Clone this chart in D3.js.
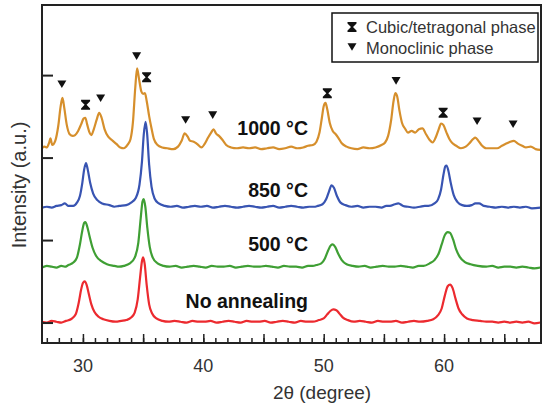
<!DOCTYPE html>
<html>
<head>
<meta charset="utf-8">
<script src="https://cdn.jsdelivr.net/npm/d3@7"></script>
<style>
  body { margin: 0; background: #fff; }
  svg { display: block; font-family: "Liberation Sans", Arial, Helvetica, sans-serif; }
</style>
</head>
<body>
<svg id="xrd" width="543" height="408"></svg>
<script>
//////////////////////////////////////
///////////// DATA ///////////////////
//////////////////////////////////////

// [2theta, intensity (a.u.)], each relative to its own baseline
var noAnnealing = [[26.6,0.01],[27.0,0.00],[27.4,0.02],[27.8,0.01],[28.2,0.00],[28.6,0.02],[29.0,0.04],[29.4,0.10],[29.65,0.24],[29.85,0.40],[30.0,0.48],[30.15,0.50],[30.3,0.46],[30.5,0.34],[30.7,0.22],[30.95,0.13],[31.3,0.07],[31.7,0.04],[32.2,0.02],[32.7,0.01],[33.2,0.02],[33.6,0.03],[34.0,0.06],[34.3,0.12],[34.55,0.28],[34.75,0.55],[34.9,0.74],[35.0,0.79],[35.12,0.72],[35.3,0.45],[35.5,0.22],[35.75,0.11],[36.1,0.05],[36.6,0.02],[37.1,0.01],[37.6,0.02],[38.1,0.01],[38.6,0.00],[39.1,0.02],[39.6,0.01],[40.1,0.01],[40.6,0.02],[41.1,0.00],[41.6,0.01],[42.1,0.02],[42.6,0.01],[43.1,0.00],[43.6,0.02],[44.1,0.01],[44.6,0.01],[45.1,0.02],[45.6,0.00],[46.1,0.01],[46.6,0.02],[47.1,0.01],[47.6,0.00],[48.1,0.02],[48.6,0.01],[49.1,0.01],[49.6,0.03],[50.0,0.05],[50.3,0.10],[50.55,0.14],[50.8,0.16],[51.05,0.15],[51.3,0.11],[51.6,0.06],[52.0,0.03],[52.5,0.01],[53.0,0.02],[53.5,0.01],[54.0,0.00],[54.5,0.02],[55.0,0.01],[55.5,0.01],[56.0,0.02],[56.5,0.00],[57.0,0.01],[57.5,0.02],[58.0,0.01],[58.6,0.02],[59.1,0.04],[59.5,0.09],[59.8,0.17],[60.05,0.32],[60.3,0.44],[60.5,0.46],[60.7,0.42],[60.95,0.29],[61.2,0.17],[61.5,0.10],[61.9,0.05],[62.4,0.03],[63.0,0.02],[63.5,0.01],[64.0,0.01],[64.5,0.00],[65.0,0.01],[65.5,0.00],[66.0,0.01],[66.5,0.00],[67.0,0.01],[67.5,-0.01],[68.0,0.00]];

var anneal500 = [[26.6,0.00],[27.0,0.02],[27.4,0.01],[27.8,0.00],[28.2,0.02],[28.5,0.01],[28.8,0.03],[29.2,0.06],[29.5,0.12],[29.75,0.28],[29.95,0.45],[30.1,0.54],[30.2,0.55],[30.35,0.50],[30.55,0.38],[30.8,0.24],[31.1,0.14],[31.5,0.08],[32.0,0.04],[32.6,0.02],[33.0,0.01],[33.4,0.02],[33.9,0.05],[34.3,0.12],[34.6,0.30],[34.8,0.60],[34.95,0.80],[35.05,0.83],[35.18,0.74],[35.35,0.48],[35.55,0.25],[35.8,0.12],[36.2,0.05],[36.7,0.02],[37.2,0.01],[37.7,0.02],[38.2,0.00],[38.7,0.01],[39.2,0.02],[39.7,0.01],[40.2,0.00],[40.7,0.02],[41.2,0.01],[41.7,0.01],[42.2,0.02],[42.7,0.00],[43.2,0.01],[43.7,0.02],[44.2,0.01],[44.7,0.01],[45.2,0.02],[45.7,0.01],[46.2,0.00],[46.7,0.02],[47.2,0.01],[47.7,0.01],[48.2,0.00],[48.7,0.02],[49.1,0.02],[49.4,0.03],[49.8,0.05],[50.1,0.11],[50.35,0.20],[50.6,0.27],[50.75,0.28],[50.95,0.25],[51.2,0.17],[51.5,0.09],[51.9,0.04],[52.4,0.02],[52.9,0.01],[53.4,0.02],[53.9,0.00],[54.4,0.01],[54.9,0.02],[55.4,0.01],[55.9,0.01],[56.4,0.02],[56.9,0.01],[57.4,0.00],[57.9,0.02],[58.3,0.02],[58.8,0.05],[59.2,0.09],[59.55,0.17],[59.8,0.28],[60.05,0.39],[60.3,0.43],[60.5,0.42],[60.75,0.34],[61.0,0.22],[61.3,0.13],[61.7,0.07],[62.2,0.04],[62.8,0.02],[63.5,0.01],[64.0,0.02],[64.5,0.00],[65.0,0.01],[65.5,0.01],[66.0,0.00],[66.5,0.01],[67.0,0.00],[67.5,-0.01],[68.0,0.00]];

var anneal850 = [[26.6,0.00],[27.0,0.01],[27.4,0.00],[27.8,0.02],[28.2,0.03],[28.5,0.05],[28.8,0.02],[29.2,0.02],[29.5,0.06],[29.75,0.14],[29.95,0.30],[30.1,0.46],[30.25,0.54],[30.4,0.46],[30.6,0.30],[30.85,0.17],[31.2,0.09],[31.6,0.05],[32.2,0.03],[32.6,0.01],[33.0,0.02],[33.6,0.03],[34.0,0.06],[34.4,0.12],[34.7,0.28],[34.9,0.55],[35.05,0.88],[35.2,1.04],[35.33,0.90],[35.5,0.52],[35.7,0.25],[35.95,0.11],[36.3,0.05],[36.8,0.02],[37.3,0.01],[37.8,0.02],[38.3,0.00],[38.8,0.01],[39.3,0.02],[39.8,0.01],[40.3,0.02],[40.8,0.00],[41.3,0.01],[41.8,0.02],[42.3,0.01],[42.8,0.00],[43.3,0.01],[43.8,0.02],[44.3,0.01],[44.8,0.00],[45.3,0.01],[45.8,0.02],[46.3,0.00],[46.8,0.01],[47.3,0.02],[47.8,0.01],[48.3,0.00],[48.8,0.01],[49.2,0.01],[49.5,0.02],[49.9,0.04],[50.2,0.10],[50.45,0.20],[50.65,0.27],[50.85,0.24],[51.1,0.14],[51.4,0.06],[51.8,0.03],[52.3,0.01],[52.8,0.02],[53.3,0.00],[53.8,0.01],[54.3,0.01],[54.8,0.00],[55.2,0.02],[55.5,0.02],[55.9,0.04],[56.2,0.05],[56.6,0.02],[57.0,0.01],[57.5,0.00],[58.0,0.01],[58.4,0.02],[58.7,0.02],[59.2,0.05],[59.5,0.10],[59.75,0.22],[59.95,0.40],[60.1,0.50],[60.2,0.51],[60.35,0.45],[60.55,0.30],[60.8,0.15],[61.1,0.07],[61.5,0.03],[61.9,0.02],[62.3,0.03],[62.6,0.05],[62.9,0.05],[63.3,0.02],[63.8,0.01],[64.3,0.00],[64.8,0.01],[65.3,0.00],[65.8,0.01],[66.3,0.00],[66.8,0.01],[67.3,-0.01],[68.0,0.00]];

var anneal1000 = [[26.6,0.01],[26.8,0.03],[27.0,0.02],[27.2,0.08],[27.3,0.13],[27.45,0.05],[27.7,0.10],[27.95,0.28],[28.15,0.52],[28.3,0.62],[28.45,0.50],[28.65,0.30],[28.9,0.18],[29.15,0.16],[29.35,0.17],[29.6,0.22],[29.85,0.30],[30.05,0.37],[30.2,0.38],[30.35,0.30],[30.55,0.20],[30.7,0.17],[30.9,0.24],[31.15,0.36],[31.35,0.44],[31.55,0.38],[31.8,0.24],[32.1,0.15],[32.4,0.11],[32.8,0.06],[33.1,0.02],[33.4,0.01],[33.7,0.05],[33.95,0.12],[34.15,0.32],[34.35,0.75],[34.5,0.98],[34.65,0.86],[34.85,0.70],[35.0,0.67],[35.15,0.68],[35.3,0.58],[35.5,0.40],[35.7,0.25],[35.9,0.12],[36.2,0.05],[36.6,0.02],[37.0,0.01],[37.5,0.00],[37.9,0.03],[38.2,0.10],[38.45,0.19],[38.7,0.15],[38.9,0.10],[39.2,0.09],[39.5,0.06],[39.85,0.02],[40.1,0.06],[40.4,0.14],[40.65,0.20],[40.85,0.24],[41.05,0.19],[41.3,0.16],[41.6,0.11],[41.9,0.05],[42.3,0.02],[42.8,0.01],[43.3,0.02],[43.8,0.01],[44.3,0.02],[44.8,0.00],[45.3,0.01],[45.8,0.02],[46.3,0.00],[46.8,0.01],[47.3,0.03],[47.8,0.01],[48.3,0.02],[48.7,0.04],[49.1,0.05],[49.4,0.09],[49.65,0.20],[49.85,0.38],[50.0,0.52],[50.15,0.56],[50.3,0.48],[50.5,0.32],[50.75,0.22],[51.0,0.18],[51.2,0.14],[51.5,0.07],[51.9,0.03],[52.3,0.01],[52.8,0.00],[53.3,0.02],[53.8,0.01],[54.3,0.02],[54.8,0.05],[55.1,0.08],[55.35,0.16],[55.6,0.35],[55.8,0.58],[55.95,0.68],[56.1,0.64],[56.3,0.46],[56.5,0.32],[56.75,0.25],[57.0,0.20],[57.3,0.22],[57.6,0.20],[57.9,0.24],[58.2,0.25],[58.5,0.18],[58.8,0.11],[59.05,0.08],[59.3,0.14],[59.55,0.24],[59.75,0.31],[59.95,0.29],[60.2,0.20],[60.45,0.12],[60.7,0.07],[61.0,0.04],[61.4,0.01],[61.8,0.03],[62.1,0.07],[62.4,0.12],[62.6,0.14],[62.85,0.10],[63.1,0.05],[63.5,0.01],[64.0,0.01],[64.4,0.01],[64.8,0.04],[65.2,0.07],[65.5,0.09],[65.8,0.10],[66.1,0.07],[66.5,0.04],[66.8,0.02],[67.2,0.03],[67.6,0.00],[68.0,-0.01]];

var seriesNames = ["No annealing", "500 °C", "850 °C", "1000 °C"];
var seriesData = [noAnnealing, anneal500, anneal850, anneal1000];
var seriesOffsets = [0.0, 0.667, 1.394, 2.103];   // vertical stacking (a.u.)
var seriesColors = ["#ec2a2f", "#3f9f34", "#3854b2", "#d68f2c"];

// phase markers: [2theta, height (a.u., stacked)]
var monoclinicPeaks = [[28.25,2.89],[31.47,2.72],[34.46,3.23],[38.53,2.455],[40.78,2.515],[56.01,2.93],[62.74,2.44],[65.73,2.405]];
var cubicPeaks = [[30.22,2.64],[35.29,2.975],[50.3,2.78],[59.92,2.545]];

var xTickLabels = [30, 40, 50, 60];
var yTicks = [0, 1, 2, 3];

//////////////////////////////////////
///////////// CHART //////////////////
//////////////////////////////////////

var svg = d3.select("#xrd"),
    plotLeft = 42, plotRight = 541, plotTop = 5, plotBottom = 343;

var x = d3.scaleLinear().domain([26.6, 68.05]).range([plotLeft, plotRight]);
var y = d3.scaleLinear().domain([-0.248, 3.85]).range([plotBottom, plotTop]);

svg.append("defs").append("clipPath").attr("id", "plotclip")
  .append("rect")
    .attr("x", plotLeft).attr("y", plotTop)
    .attr("width", plotRight - plotLeft).attr("height", plotBottom - plotTop);

// traces
var line = d3.line()
    .x(function(d) { return x(d[0]); })
    .y(function(d) { return y(d[1] + d.off); })
    .curve(d3.curveMonotoneX);

var traces = svg.append("g").attr("clip-path", "url(#plotclip)");
seriesData.forEach(function(s, i) {
  s.forEach(function(d) { d.off = seriesOffsets[i]; });
  traces.append("path")
      .datum(s)
      .attr("d", line)
      .attr("fill", "none")
      .attr("stroke", seriesColors[i])
      .attr("stroke-width", 2.2)
      .attr("stroke-linejoin", "round");
});

// series labels
var labelY = [308, 251, 197, 135];
svg.append("g").selectAll("text")
  .data(seriesNames)
  .enter().append("text")
    .attr("x", 308)
    .attr("y", function(d, i) { return labelY[i]; })
    .attr("text-anchor", "end")
    .attr("font-size", "19.5px")
    .attr("font-weight", "bold")
    .attr("fill", "#111")
    .text(function(d) { return d; });

// phase markers
var triDown = "M-4.5,-3.8L4.5,-3.8L0,3.8Z";
var hourglass = "M-4.5,-5L4.5,-5L4.5,-3.6L1,0L4.5,3.6L4.5,5L-4.5,5L-4.5,3.6L-1,0L-4.5,-3.6Z";

svg.append("g").selectAll("path")
  .data(monoclinicPeaks)
  .enter().append("path")
    .attr("d", triDown)
    .attr("transform", function(d) { return "translate(" + x(d[0]) + "," + y(d[1]) + ")"; })
    .attr("fill", "#111");

svg.append("g").selectAll("path")
  .data(cubicPeaks)
  .enter().append("path")
    .attr("d", hourglass)
    .attr("transform", function(d) { return "translate(" + x(d[0]) + "," + y(d[1]) + ")"; })
    .attr("fill", "#111");

// x axis ticks (inward)
var xAxis = svg.append("g").attr("transform", "translate(0," + plotBottom + ")");
xAxis.append("g")
    .call(d3.axisTop(x).tickValues(d3.range(27, 69, 1)).tickSize(5).tickFormat(""))
    .call(function(g) { g.select(".domain").remove(); })
    .selectAll("line").attr("stroke", "#222").attr("stroke-width", 1.5);
xAxis.append("g")
    .call(d3.axisTop(x).tickValues(d3.range(30, 69, 5)).tickSize(9).tickFormat(""))
    .call(function(g) { g.select(".domain").remove(); })
    .selectAll("line").attr("stroke", "#222").attr("stroke-width", 1.5);
xAxis.selectAll(".tick-label")
  .data(xTickLabels)
  .enter().append("text")
    .attr("class", "tick-label")
    .attr("x", function(d) { return x(d); })
    .attr("y", 29)
    .attr("text-anchor", "middle")
    .attr("font-size", "18px")
    .attr("fill", "#333")
    .text(function(d) { return d; });

// y axis ticks (inward, no labels)
svg.append("g")
    .attr("transform", "translate(" + plotLeft + ",0)")
    .call(d3.axisRight(y).tickValues(yTicks).tickSize(11).tickFormat(""))
    .call(function(g) { g.select(".domain").remove(); })
    .selectAll("line").attr("stroke", "#222").attr("stroke-width", 2);

// frame
svg.append("rect")
    .attr("x", plotLeft).attr("y", plotTop)
    .attr("width", plotRight - plotLeft).attr("height", plotBottom - plotTop)
    .attr("fill", "none")
    .attr("stroke", "#222")
    .attr("stroke-width", 2);

// axis titles
svg.append("text")
    .attr("x", 322).attr("y", 399)
    .attr("text-anchor", "middle")
    .attr("font-size", "19px")
    .attr("fill", "#333")
    .text("2θ (degree)");

svg.append("text")
    .attr("transform", "translate(26,185) rotate(-90)")
    .attr("text-anchor", "middle")
    .attr("font-size", "20px")
    .attr("fill", "#333")
    .text("Intensity (a.u.)");

// legend
var legend = svg.append("g");
legend.append("rect")
    .attr("x", 332).attr("y", 13)
    .attr("width", 206).attr("height", 49)
    .attr("fill", "#fff")
    .attr("stroke", "#111")
    .attr("stroke-width", 1.5);
legend.append("path").attr("d", hourglass).attr("transform", "translate(352,27)").attr("fill", "#111");
legend.append("path").attr("d", triDown).attr("transform", "translate(352,47)").attr("fill", "#111");
legend.append("text")
    .attr("x", 366).attr("y", 33)
    .attr("font-size", "16.5px").attr("fill", "#333")
    .text("Cubic/tetragonal phase");
legend.append("text")
    .attr("x", 366).attr("y", 53.5)
    .attr("font-size", "16.5px").attr("fill", "#333")
    .text("Monoclinic phase");
</script>
</body>
</html>
